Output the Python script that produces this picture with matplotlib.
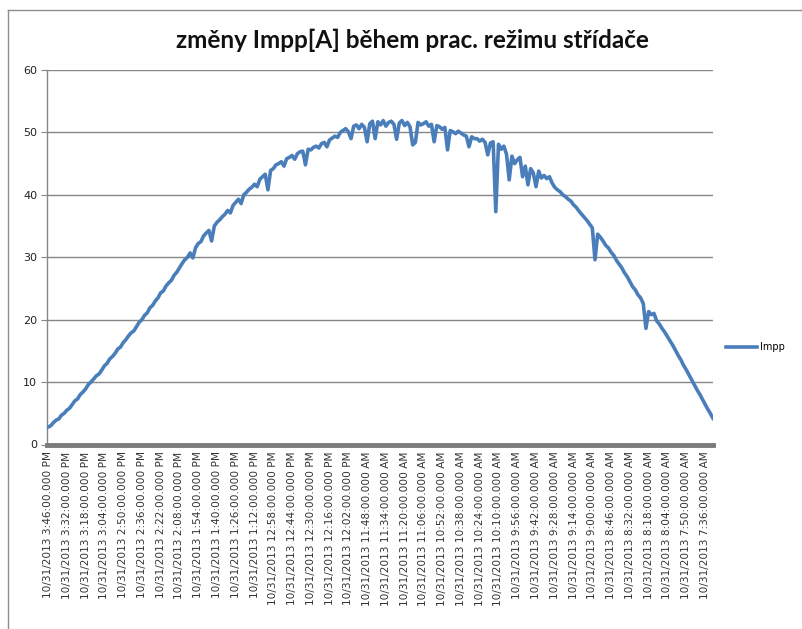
import matplotlib
matplotlib.use("Agg")
import matplotlib.pyplot as plt
from matplotlib.lines import Line2D

title = "změny Impp[A] během prac. režimu střídače"
series_name = "Impp"

# Impp values, one per 2 minutes, from 3:46 PM (left) back to 7:30 AM (right)
impp = [
    2.8, 3.0, 3.5, 3.9, 4.1, 4.7, 5.0, 5.5, 5.8, 6.4,
    7.0, 7.3, 8.0, 8.4, 8.9, 9.6, 10.0, 10.5, 11.0, 11.3,
    11.9, 12.6, 13.0, 13.7, 14.1, 14.6, 15.3, 15.6, 16.3, 16.8,
    17.4, 17.9, 18.2, 18.9, 19.6, 20.0, 20.7, 21.1, 21.9, 22.3,
    23.0, 23.5, 24.3, 24.6, 25.4, 25.9, 26.3, 27.1, 27.6, 28.3,
    29.0, 29.6, 30.0, 30.7, 29.9, 31.5, 32.2, 32.5, 33.4, 33.9,
    34.3, 32.6, 35.0, 35.6, 36.0, 36.5, 36.9, 37.5, 37.1, 38.3,
    38.8, 39.3, 38.6, 40.0, 40.4, 40.9, 41.2, 41.7, 41.3, 42.5,
    42.9, 43.3, 40.8, 43.9, 44.2, 44.8, 45.0, 45.3, 44.6, 45.8,
    46.0, 46.3, 45.7, 46.6, 46.9, 47.0, 44.8, 47.3, 47.2, 47.6,
    47.8, 47.5, 48.2, 48.4, 47.7, 48.8, 49.1, 49.4, 49.2, 50.0,
    50.3, 50.6, 50.1, 49.0, 51.0, 51.2, 50.6, 51.3, 50.8, 48.5,
    51.4, 51.8, 49.0, 51.7, 51.2, 51.9, 51.0, 51.6, 51.8, 51.3,
    48.9, 51.5, 51.9, 51.1, 51.6, 50.9, 48.0, 48.4, 51.6, 51.2,
    51.4, 51.7, 51.0, 51.3, 48.5, 51.1, 50.9, 50.5, 50.8, 47.2,
    50.3, 50.1, 49.8, 50.2, 49.9, 49.6, 49.4, 47.7, 49.3, 49.0,
    49.0, 48.6, 48.9, 48.4, 46.4, 48.3, 48.5, 37.3, 48.1, 47.3,
    47.8, 46.5, 42.4, 46.2, 45.0, 45.6, 46.0, 42.9, 44.6, 41.6,
    44.2, 43.5, 41.3, 43.8, 42.7, 43.1, 42.6, 42.9, 41.9, 41.2,
    40.8, 40.5, 40.0, 39.7, 39.3, 39.0, 38.4, 38.0, 37.4, 36.9,
    36.4, 35.9, 35.3, 34.7, 29.6, 33.7, 33.2, 32.6, 31.9, 31.5,
    30.8, 30.3, 29.5, 28.9, 28.3, 27.5, 26.9, 26.1, 25.3, 24.8,
    24.0, 23.5, 22.6, 18.6, 21.3, 20.8, 21.0, 19.8, 19.3, 18.6,
    18.0, 17.3, 16.6, 15.9, 15.1, 14.3, 13.6, 12.7, 12.0, 11.2,
    10.4, 9.6, 8.8, 8.1, 7.3, 6.5, 5.7, 5.0, 4.2,
]

tick_times = [
    "3:46", "3:32", "3:18", "3:04", "2:50", "2:36", "2:22", "2:08", "1:54",
    "1:40", "1:26", "1:12", "12:58", "12:44", "12:30", "12:16", "12:02",
    "11:48", "11:34", "11:20", "11:06", "10:52", "10:38", "10:24", "10:10",
    "9:56", "9:42", "9:28", "9:14", "9:00", "8:46", "8:32", "8:18", "8:04",
    "7:50", "7:36",
]
tick_ampm = ["PM"] * 17 + ["AM"] * 19
tick_step = 7  # one label every 14 minutes (7 points of 2 minutes)

tick_labels = [f"10/31/2013 {t}:00.000 {ap}" for t, ap in zip(tick_times, tick_ampm)]
tick_pos = [k * tick_step for k in range(len(tick_labels))]

W, H = 803, 629
fig = plt.figure(figsize=(W / 100, H / 100), dpi=100)
fig.patch.set_facecolor("white")

# chart border
fig.add_artist(Line2D([8 / W, 8 / W], [0, 1 - 10 / H], color="#8c8c8c", lw=1.0))
fig.add_artist(Line2D([8 / W, 1], [1 - 10 / H, 1 - 10 / H], color="#8c8c8c", lw=1.0))

ax = fig.add_axes([47 / W, 1 - 444.5 / H, (713.5 - 47) / W, (444.5 - 70) / H])
x = list(range(len(impp)))
line, = ax.plot(x, impp, color="#4a7ebb", lw=2.6, solid_joinstyle="round", zorder=3)

ax.set_xlim(-0.4, len(impp) - 0.8)
ax.set_ylim(0, 60)
ax.set_yticks(range(0, 61, 10))
ax.grid(axis="y", color="#868686", lw=1.0, zorder=1)
ax.set_axisbelow(True)

for s in ["top", "right"]:
    ax.spines[s].set_visible(False)
ax.spines["left"].set_color("#868686")
ax.spines["left"].set_linewidth(1.0)
ax.spines["bottom"].set_color("#7a7a7a")
ax.spines["bottom"].set_linewidth(3.5)

ax.set_xticks(tick_pos)
ax.set_xticklabels(tick_labels, rotation=90, fontsize=7.6, color="#333333",
                   family="DejaVu Sans")
ax.tick_params(axis="x", length=0, pad=5)
ax.tick_params(axis="y", length=4, color="#868686", labelsize=8, labelcolor="#222222", pad=3)

fig.text(412 / W, 1 - 40 / H, title, ha="center", va="center",
         fontsize=17.5, fontweight="bold", family="Lato", color="#111111")

leg = ax.legend([line], [series_name], loc="center left", bbox_to_anchor=(1.005, 0.26),
                frameon=False, fontsize=7, handlelength=3.2, handletextpad=0.3)
for h in leg.legend_handles:
    h.set_linewidth(2.6)

fig.savefig("out.png", dpi=100, facecolor="white")
